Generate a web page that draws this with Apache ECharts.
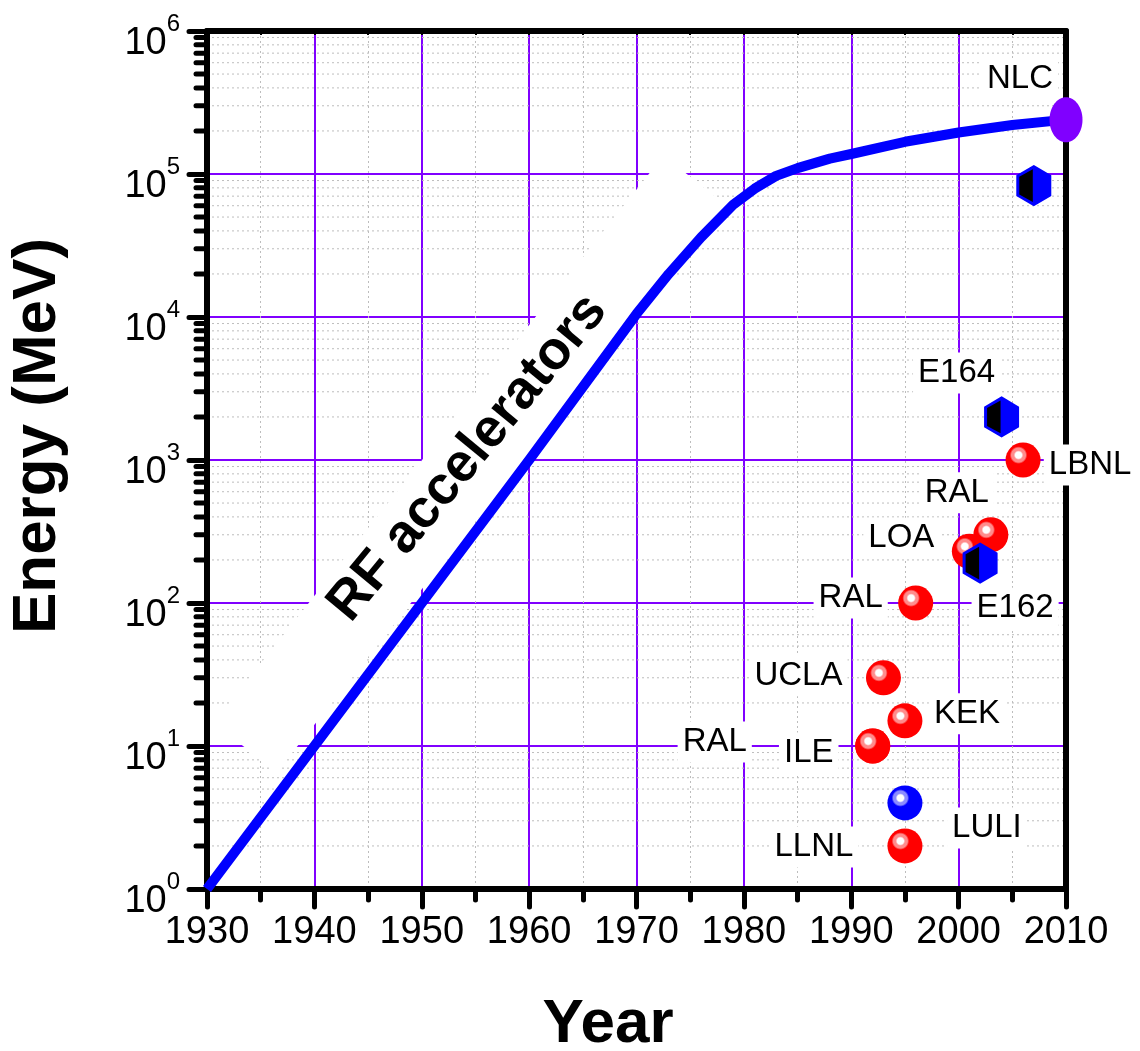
<!DOCTYPE html>
<html>
<head>
<meta charset="utf-8">
<title>Accelerator energy vs year</title>
<script src="https://cdn.jsdelivr.net/npm/echarts@6/dist/echarts.min.js"></script>
<style>
  html, body { margin: 0; padding: 0; background: #fff; }
  #chart { width: 1140px; height: 1051px; }
</style>
</head>
<body>
<div id="chart"></div>
<script>
// ---- data ----
const yearMin = 1930;
const yearMax = 2010;
const energyMin = 1;
const energyMax = 1e6;

// Envelope of RF accelerator energies (MeV)
const rfYears  = [1930, 1940, 1950, 1960, 1970, 1973, 1976, 1979, 1981, 1983, 1985, 1988, 1990, 1995, 2000, 2005, 2010];
const rfEnergy = [1, 10, 100, 1000, 10500, 20000, 36000, 61000, 79000, 97000, 110000, 128000, 138000, 168000, 195000, 220000, 240000];

// Laser-plasma results (red spheres)
const redLabels = ['LBNL', 'RAL', 'LOA', 'RAL', 'UCLA', 'KEK', 'RAL', 'ILE', 'LLNL'];
const redYears  = [2006, 2003, 2001, 1996, 1993, 1995, 1992, 1992, 1995];
const redEnergy = [1000, 300, 230, 100, 30, 15, 10, 10, 2];

// Blue sphere
const blueLabels = ['LULI'];
const blueYears  = [1995];
const blueEnergy = [4];

// Plasma wakefield results (half-filled hexagons)
const hexLabels = ['', 'E164', 'E162'];
const hexYears  = [2007, 2004, 2002];
const hexEnergy = [83000, 2000, 190];

// Linear collider point
const nlcLabels = ['NLC'];
const nlcYears  = [2010];
const nlcEnergy = [240000];

// Log minor gridline values (2..9 per decade)
const minorTickValues = [
  2, 3, 4, 5, 6, 7, 8, 9,
  20, 30, 40, 50, 60, 70, 80, 90,
  200, 300, 400, 500, 600, 700, 800, 900,
  2000, 3000, 4000, 5000, 6000, 7000, 8000, 9000,
  20000, 30000, 40000, 50000, 60000, 70000, 80000, 90000,
  200000, 300000, 400000, 500000, 600000, 700000, 800000, 900000
];

// ---- label placement (pixel offsets from each mark) ----
const redLabelOffsets = [[67, 5], [-34, -42], [-68, -13], [-65, -5], [-85, -2], [62, -7], [-158, -4], [-64, 7], [-91, 1]];
const blueLabelOffsets = [[82, 25]];
const hexLabelOffsets = [[0, 0], [-45, -44], [35, 45]];
const nlcLabelOffsets = [[-46, -41]];

const FONT = '"Liberation Sans", Arial, sans-serif';
const PURPLE = '#8000ff';

const labelStyle = {
  show: true,
  position: 'inside',
  align: 'center',
  verticalAlign: 'middle',
  fontFamily: FONT,
  fontSize: 33,
  color: '#000',
  opacity: 1,
  backgroundColor: '#fff',
  padding: [4, 5]
};

// glossy sphere: white highlight up-left, soft ring, solid body
function sphereColor(base, ring) {
  return {
    type: 'radial', x: 0.37, y: 0.36, r: 0.5,
    colorStops: [
      { offset: 0, color: '#ffffff' },
      { offset: 0.18, color: '#ffffff' },
      { offset: 0.27, color: ring },
      { offset: 0.4, color: ring },
      { offset: 0.5, color: base },
      { offset: 1, color: base }
    ]
  };
}

function pointData(names, xs, ys, offsets) {
  return names.map((n, i) => ({
    name: n,
    value: [xs[i], ys[i]],
    label: Object.assign({}, labelStyle, { offset: offsets[i], formatter: n })
  }));
}

const axisBlack = { color: '#000', width: 6 };

const option = {
  animation: false,
  backgroundColor: '#fff',
  grid: { left: 207, right: 74, top: 31, bottom: 162, containLabel: false },
  xAxis: [
    {
      type: 'value', position: 'bottom', min: yearMin, max: yearMax, interval: 10,
      axisLine: { show: true, onZero: false, lineStyle: axisBlack },
      axisTick: { show: true, inside: false, length: 18, lineStyle: { color: '#000', width: 5, cap: 'round' } },
      minorTick: { show: true, splitNumber: 2, length: 11, lineStyle: { color: '#000', width: 5, cap: 'round' } },
      axisLabel: { show: true, margin: 25, fontSize: 38, fontFamily: FONT, color: '#000',
                   showMinLabel: true, showMaxLabel: true, formatter: v => String(v) },
      splitLine: { show: true, lineStyle: { color: PURPLE, width: 2 } },
      minorSplitLine: { show: true, lineStyle: { color: '#bdbdbd', width: 1, type: [2, 3] } }
    },
    {
      type: 'value', position: 'top', min: yearMin, max: yearMax, interval: 5,
      axisLine: { show: true, onZero: false, lineStyle: axisBlack },
      axisTick: { show: true, inside: true, length: 4, lineStyle: { color: '#000', width: 2 } },
      axisLabel: { show: false },
      splitLine: { show: false }
    }
  ],
  yAxis: [
    {
      type: 'log', logBase: 10, position: 'left', min: energyMin, max: energyMax,
      axisLine: { show: true, onZero: false, lineStyle: axisBlack },
      axisTick: { show: true, inside: false, length: 18, lineStyle: { color: '#000', width: 5, cap: 'round' } },
      axisLabel: {
        show: true, margin: 27,
        formatter: v => '{b|10}{s|' + Math.round(Math.log10(v)) + '}',
        rich: {
          b: { fontSize: 38, fontFamily: FONT, color: '#000', lineHeight: 38, verticalAlign: 'top', padding: [13, 0, 6, 0] },
          s: { fontSize: 24, fontFamily: FONT, color: '#000', lineHeight: 24, verticalAlign: 'top' }
        }
      },
      splitLine: { show: true, lineStyle: { color: PURPLE, width: 2 } }
    },
    {
      type: 'log', logBase: 10, position: 'right', min: energyMin, max: energyMax,
      axisLine: { show: true, onZero: false, lineStyle: axisBlack },
      axisTick: { show: false },
      axisLabel: { show: false },
      splitLine: { show: false }
    }
  ],
  graphic: [
    {
      // white band behind the rotated caption
      type: 'rect', x: 470, y: 464, rotation: 51.6 * Math.PI / 180,
      shape: { x: -362, y: -40, width: 724, height: 80 },
      style: { fill: '#fff' }, z: 1, silent: true
    },
    {
      type: 'text', x: 468, y: 458, rotation: 50.5 * Math.PI / 180,
      style: { text: 'RF accelerators', font: 'bold 54px ' + FONT, fill: '#000',
               align: 'center', verticalAlign: 'middle', textAlign: 'center', textVerticalAlign: 'middle' },
      z: 6, silent: true
    },
    {
      type: 'text', x: 38, y: 436, rotation: Math.PI / 2,
      style: { text: 'Energy (MeV)', font: 'bold 62px ' + FONT, fill: '#000',
               align: 'center', verticalAlign: 'middle', textAlign: 'center', textVerticalAlign: 'middle' },
      z: 6, silent: true
    },
    {
      type: 'text', x: 608, y: 1025,
      style: { text: 'Year', font: 'bold 62px ' + FONT, fill: '#000',
               align: 'center', verticalAlign: 'middle', textAlign: 'center', textVerticalAlign: 'middle' },
      z: 6, silent: true
    }
  ],
  series: [
    {
      // log minor gridlines and minor ticks on the energy axis
      type: 'custom', name: 'minor', z: 0, silent: true, clip: false,
      data: minorTickValues.map(v => [yearMin, v]),
      renderItem: (params, api) => {
        const v = api.value(1);
        const p0 = api.coord([yearMin, v]);
        const p1 = api.coord([yearMax, v]);
        return {
          type: 'group',
          children: [
            { type: 'line', shape: { x1: p0[0], y1: p0[1], x2: p1[0], y2: p1[1] },
              style: { stroke: '#bdbdbd', lineWidth: 1, lineDash: [2, 3] } },
            { type: 'line', shape: { x1: p0[0] - 11, y1: p0[1], x2: p0[0], y2: p0[1] },
              style: { stroke: '#000', lineWidth: 5, lineCap: 'round' } }
          ]
        };
      }
    },
    {
      type: 'line', name: 'RF accelerators', z: 3,
      data: rfYears.map((y, i) => [y, rfEnergy[i]]),
      showSymbol: false, smooth: false,
      lineStyle: { color: '#0000ff', width: 10, join: 'round' }
    },
    {
      type: 'scatter', name: 'laser', z: 7,
      symbol: 'circle', symbolSize: 35,
      itemStyle: { color: sphereColor('#ff0000', '#ff8c8c'), opacity: 1 },
      data: pointData(redLabels, redYears, redEnergy, redLabelOffsets)
    },
    {
      type: 'scatter', name: 'laser (blue)', z: 7,
      symbol: 'circle', symbolSize: 35,
      itemStyle: { color: sphereColor('#0000ff', '#8c8cff'), opacity: 1 },
      data: pointData(blueLabels, blueYears, blueEnergy, blueLabelOffsets)
    },
    {
      type: 'custom', name: 'wakefield', z: 8, clip: false,
      data: hexYears.map((y, i) => [y, hexEnergy[i], i]),
      renderItem: (params, api) => {
        const c = api.coord([api.value(0), api.value(1)]);
        const idx = api.value(2);
        const a = 16.5, b = 19.5;
        const hex = [[0, -b], [a, -b / 2], [a, b / 2], [0, b], [-a, b / 2], [-a, -b / 2]]
          .map(p => [c[0] + p[0], c[1] + p[1]]);
        // dark left half, inset from the blue rim
        const ix = -a + 2, rx = -1;
        const topAt = x => -b + (Math.abs(x) / a) * (b / 2);
        const half = [[ix, topAt(ix) + 2], [rx, topAt(rx) + 2.5], [rx, -topAt(rx) - 2.5], [ix, -topAt(ix) - 2]]
          .map(p => [c[0] + p[0], c[1] + p[1]]);
        const children = [
          { type: 'polygon', shape: { points: hex }, style: { fill: '#0000ff', stroke: '#0000ff', lineWidth: 2 } },
          { type: 'polygon', shape: { points: half }, style: { fill: '#000' } }
        ];
        const name = hexLabels[idx];
        if (name) {
          const off = hexLabelOffsets[idx];
          children.push({
            type: 'text', x: c[0] + off[0], y: c[1] + off[1],
            style: { text: name, font: '33px ' + FONT, fill: '#000', align: 'center', verticalAlign: 'middle',
                     backgroundColor: '#fff', padding: [4, 5] },
            z2: 10
          });
        }
        return { type: 'group', children };
      }
    },
    {
      type: 'scatter', name: 'NLC', z: 9,
      symbol: 'path://M1,0 C1.552,0 2,0.448 2,1 C2,1.552 1.552,2 1,2 C0.448,2 0,1.552 0,1 C0,0.448 0.448,0 1,0 Z',
      symbolSize: [33, 45], symbolKeepAspect: false,
      itemStyle: { color: PURPLE, opacity: 1 },
      data: pointData(nlcLabels, nlcYears, nlcEnergy, nlcLabelOffsets)
    }
  ]
};

const chart = echarts.init(document.getElementById('chart'), null, { renderer: 'canvas' });
chart.setOption(option);
</script>
</body>
</html>
